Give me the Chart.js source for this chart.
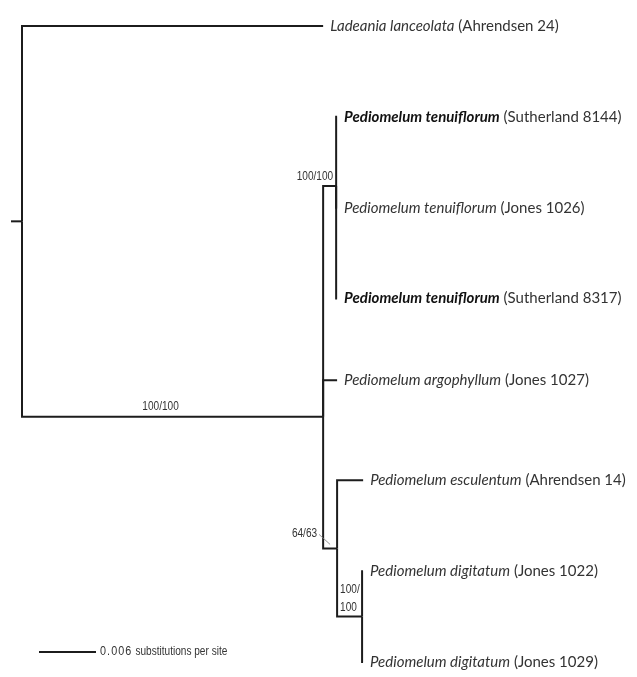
<!DOCTYPE html>
<html><head><meta charset="utf-8">
<script src="https://cdn.jsdelivr.net/npm/chart.js@4"></script>
<style>html,body{margin:0;padding:0;background:#fff}#wrap{position:relative;width:637px;height:677px}</style>
</head><body><div id="wrap"><canvas id="c"></canvas></div>
<script>
// ---- tree data ----
const nodeIds   = ['root','lad','ingroup','tenClade','ten8144','ten1026','ten8317','arg','escDig','esc','digClade','dig1022','dig1029'];
const parents   = [-1, 0, 0, 2, 3, 3, 3, 2, 2, 8, 8, 10, 10];
const branchLen = [0.00116, 0.0317, 0.0317, 0.00137, 0.0001, 0.0001, 0.0001, 0.00147, 0.00147, 0.00274, 0.00263, 0.0001, 0.0001];
const rows      = [2.15, 0, 4.30, 1.76, 1, 2, 3, 3.9, 5.75, 5, 6.5, 6, 7];
const species   = [null,'Ladeania lanceolata',null,null,'Pediomelum tenuiflorum','Pediomelum tenuiflorum','Pediomelum tenuiflorum','Pediomelum argophyllum',null,'Pediomelum esculentum',null,'Pediomelum digitatum','Pediomelum digitatum'];
const vouchers  = [null,'(Ahrendsen 24)',null,null,'(Sutherland 8144)','(Jones 1026)','(Sutherland 8317)','(Jones 1027)',null,'(Ahrendsen 14)',null,'(Jones 1022)','(Jones 1029)'];
const boldTaxa  = [false,false,false,false,true,false,true,false,false,false,false,false,false];
const supports  = [null,null,'100/100','100/100',null,null,null,null,'64/63',null,'100/\n100',null,null];
const scaleBarLength = 0.006;
const scaleBarValue  = '0.006';
const scaleBarUnit   = 'substitutions per site';

// cumulative depth
const depth = nodeIds.map(() => 0);
for (let i = 1; i < nodeIds.length; i++) depth[i] = depth[parents[i]] + branchLen[i];

const lineColor = '#1c1c1c';
const datasets = [];
datasets.push({data:[{x:-branchLen[0], y:rows[0]},{x:0, y:rows[0]}]});
for (let i = 1; i < nodeIds.length; i++) {
  const p = parents[i];
  datasets.push({data:[{x:depth[p], y:rows[p]},{x:depth[p], y:rows[i]},{x:depth[i], y:rows[i]}]});
}
const sbStart = 0.00179, sbRow = 6.89;
datasets.push({data:[{x:sbStart, y:sbRow},{x:sbStart+scaleBarLength, y:sbRow}]});
datasets.forEach(d => Object.assign(d, {showLine:true, borderColor:lineColor, borderWidth:2, pointRadius:0, fill:false, tension:0, borderJoinStyle:'miter'}));

function narrowText(ctx, txt, x, y, align, font, sx, spacing) {
  ctx.save();
  ctx.font = font;
  ctx.letterSpacing = (spacing || 0) + 'px';
  const w = ctx.measureText(txt).width * sx;
  let left = x;
  if (align === 'right') left = x - w;
  else if (align === 'center') left = x - w/2;
  ctx.translate(left, y);
  ctx.scale(sx, 1);
  ctx.textAlign = 'left';
  ctx.fillText(txt, 0, 0);
  ctx.restore();
  return w;
}

const labelPlugin = {
  id:'treeLabels',
  afterDatasetsDraw(chart) {
    const ctx = chart.ctx, xs = chart.scales.x, ys = chart.scales.y;
    ctx.save();
    ctx.textBaseline = 'middle';
    const tf = '15px Lato, "Open Sans", sans-serif';
    for (let i = 0; i < nodeIds.length; i++) {
      if (!species[i]) continue;
      let x = xs.getPixelForValue(depth[i]) + 7;
      const y = ys.getPixelForValue(rows[i]);
      ctx.font = (boldTaxa[i] ? 'italic bold ' : 'italic ') + tf;
      ctx.fillStyle = boldTaxa[i] ? '#111' : '#333';
      ctx.fillText(species[i], x, y);
      x += ctx.measureText(species[i]).width;
      ctx.font = tf;
      x += ctx.measureText(' ').width;
      ctx.fillStyle = '#333';
      ctx.fillText(vouchers[i], x, y);
    }
    ctx.fillStyle = '#333';
    const sf = '12px "Liberation Sans", Arial, sans-serif', sx = 0.84;
    for (let i = 0; i < nodeIds.length; i++) {
      if (!supports[i]) continue;
      const nx = xs.getPixelForValue(depth[i]), ny = ys.getPixelForValue(rows[i]);
      const px = xs.getPixelForValue(depth[parents[i]]);
      if (nodeIds[i] === 'ingroup') {
        narrowText(ctx, supports[i], (px + nx)/2 - 12, ny - 10, 'center', sf, sx);
      } else if (nodeIds[i] === 'tenClade') {
        narrowText(ctx, supports[i], nx - 3, ny - 9, 'right', sf, sx);
      } else if (nodeIds[i] === 'escDig') {
        narrowText(ctx, supports[i], nx - 20, ny - 15, 'right', sf, sx);
        ctx.save();
        ctx.strokeStyle = '#777'; ctx.lineWidth = 0.8;
        ctx.beginPath(); ctx.moveTo(nx - 18, ny - 14); ctx.lineTo(nx - 7, ny - 4); ctx.stroke();
        ctx.restore();
      } else if (nodeIds[i] === 'digClade') {
        const parts = supports[i].split('\n');
        narrowText(ctx, parts[0], px + 3, ny - 27, 'left', sf, sx);
        narrowText(ctx, parts[1], px + 3, ny - 9, 'left', sf, sx);
      }
    }
    const bx = xs.getPixelForValue(sbStart + scaleBarLength) + 4, by = ys.getPixelForValue(sbRow);
    ctx.fillStyle = '#333';
    const w1 = narrowText(ctx, scaleBarValue, bx, by, 'left', '12px "Liberation Sans", Arial, sans-serif', 0.9, 1.2);
    narrowText(ctx, scaleBarUnit, bx + w1 + 3, by, 'left', '12px "Liberation Sans", Arial, sans-serif', 0.84);
    ctx.restore();
  }
};

new Chart(document.getElementById('c'), {
  type:'scatter',
  data:{datasets},
  options:{
    responsive:true, maintainAspectRatio:false, animation:false,
    layout:{padding:0},
    plugins:{legend:{display:false}, tooltip:{enabled:false}},
    events:[],
    scales:{
      x:{type:'linear', display:false, min:-0.002316, max:0.06474},
      y:{type:'linear', display:false, reverse:true, min:-0.286, max:7.165}
    }
  },
  plugins:[labelPlugin]
});
</script></body></html>
